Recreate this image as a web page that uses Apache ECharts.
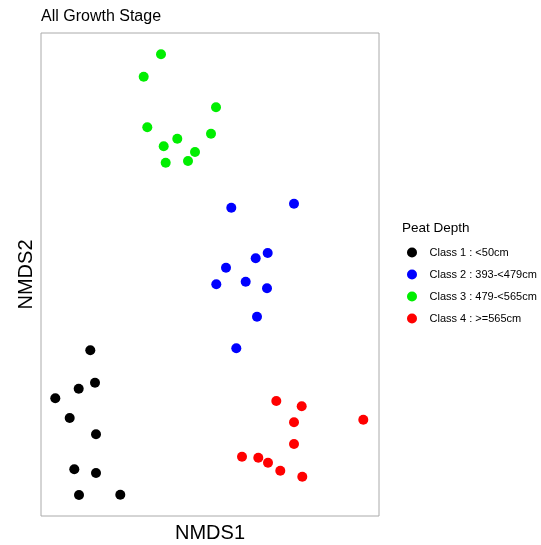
<!DOCTYPE html>
<html>
<head>
<meta charset="utf-8">
<script src="https://cdn.jsdelivr.net/npm/echarts@6/dist/echarts.min.js"></script>
<style>html,body{margin:0;padding:0;background:#fff;}#chart{width:541px;height:545px;}</style>
</head>
<body>
<div id="chart"></div>
<script>
const chartTitle = 'All Growth Stage';
const legendTitle = 'Peat Depth';
const classNames = ['Class 1 : <50cm', 'Class 2 : 393-<479cm', 'Class 3 : 479-<565cm', 'Class 4 : >=565cm'];
const classColors = ['#000000', '#0000FF', '#00EE00', '#FF0000'];

// NMDS scores (arbitrary units)
const class1 = [[49.3,165.7],[54,133.3],[37.7,127.3],[14.3,117.7],[28.7,98],[55,81.7],[33.3,46.7],[55,43],[38,21],[79.3,21.3]];
const class2 = [[190.3,308.3],[253,312.3],[226.7,263],[214.7,257.7],[185,248.3],[175.3,231.7],[204.7,234.3],[226,227.7],[216,199.3],[195.3,167.7]];
const class3 = [[120,461.7],[102.7,439.3],[175,408.7],[106.3,388.7],[136.3,377.3],[170,382.3],[122.7,369.7],[154,364],[124.7,353.3],[147,355]];
const class4 = [[235.3,115],[260.7,109.7],[322.3,96.3],[253,93.7],[253,72],[201,59.3],[217.3,58.3],[227,53.3],[239.3,45.3],[261.3,39.3]];
const xRange = [0, 338];
const yRange = [0, 483];

const allData = [class1, class2, class3, class4];
const font = 'Liberation Sans, Arial, sans-serif';

const chart = echarts.init(document.getElementById('chart'));
chart.setOption({
  animation: false,
  backgroundColor: '#fff',
  title: [
    { text: chartTitle, left: 41, top: 9, padding: 0,
      textStyle: { fontFamily: font, fontSize: 16, fontWeight: 'normal', color: '#000' } },
    { text: legendTitle, left: 402, top: 221, padding: 0,
      textStyle: { fontFamily: font, fontSize: 13.5, fontWeight: 'normal', color: '#000' } }
  ],
  legend: {
    orient: 'vertical', left: 407, top: 247, padding: 0,
    itemWidth: 25, itemHeight: 10, itemGap: 11,
    icon: 'circle',
    data: classNames,
    textStyle: { fontFamily: font, fontSize: 11, color: '#000' }
  },
  grid: { left: 41, top: 33, width: 338, height: 483, show: true, borderColor: '#aaaaaa', borderWidth: 1, backgroundColor: 'transparent', outerBoundsMode: 'none', containLabel: false },
  xAxis: {
    type: 'value', min: xRange[0], max: xRange[1],
    name: 'NMDS1', nameLocation: 'middle', nameGap: 7,
    nameTextStyle: { fontFamily: font, fontSize: 20, color: '#000' },
    axisLine: { show: false }, axisTick: { show: false }, axisLabel: { show: false }, splitLine: { show: false }
  },
  yAxis: {
    type: 'value', min: yRange[0], max: yRange[1],
    name: 'NMDS2', nameLocation: 'middle', nameGap: 5, nameRotate: 90,
    nameTextStyle: { fontFamily: font, fontSize: 20, color: '#000' },
    axisLine: { show: false }, axisTick: { show: false }, axisLabel: { show: false }, splitLine: { show: false }
  },
  series: classNames.map((n, i) => ({
    name: n, type: 'scatter', symbol: 'circle', symbolSize: 10,
    itemStyle: { color: classColors[i], opacity: 1 },
    data: allData[i]
  }))
});
</script>
</body>
</html>
